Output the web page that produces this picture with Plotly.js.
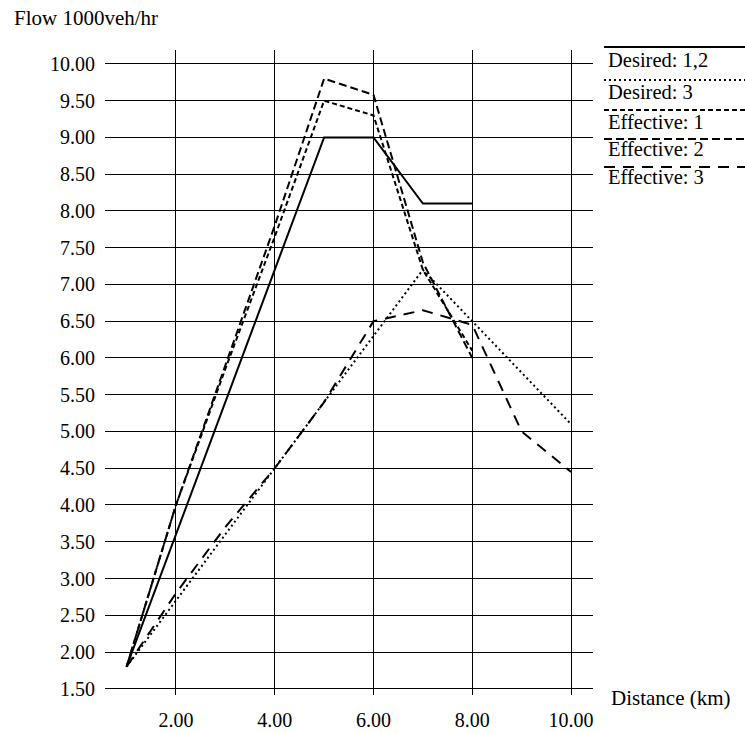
<!DOCTYPE html>
<html>
<head>
<meta charset="utf-8">
<script src="https://cdn.plot.ly/plotly-3.0.1.min.js"></script>
<style>
html,body{margin:0;padding:0;background:#fff;}
#chart{width:745px;height:733px;}
</style>
</head>
<body>
<div id="chart"></div>
<script>
// ---- data ----
const seriesNames = ["Desired: 1,2", "Desired: 3", "Effective: 1", "Effective: 2", "Effective: 3"];

const desired12X = [1, 5, 6, 7, 8];
const desired12Y = [1.8, 9.0, 9.0, 8.1, 8.1];

const desired3X = [1, 2, 4, 7, 8, 10];
const desired3Y = [1.8, 2.7, 4.5, 7.2, 6.5, 5.1];

const effective1X = [1, 2, 3, 4, 5, 6, 7, 8];
const effective1Y = [1.8, 4.0, 5.85, 7.65, 9.5, 9.3, 7.2, 6.1];

const effective2X = [1, 2, 3, 4, 5, 6, 7, 8];
const effective2Y = [1.8, 4.0, 5.9, 7.8, 9.8, 9.58, 7.3, 6.0];

const effective3X = [1, 2, 3, 4, 5, 6, 7, 8, 9, 10];
const effective3Y = [1.8, 2.8, 3.7, 4.5, 5.4, 6.5, 6.65, 6.45, 5.0, 4.45];

const xTickVals = [2, 4, 6, 8, 10];
const yTickVals = [1.5, 2, 2.5, 3, 3.5, 4, 4.5, 5, 5.5, 6, 6.5, 7, 7.5, 8, 8.5, 9, 9.5, 10];

const yTitle = "Flow 1000veh/hr";
const xTitle = "Distance (km)";

// ---- styles ----
const FONT = "Liberation Serif, Times New Roman, serif";
const dashes = ["solid", "2px,3px", "5px,3px", "8px,4px", "11px,8px"];
const widths = [2, 2, 2, 2, 2];

const xs = [desired12X, desired3X, effective1X, effective2X, effective3X];
const ys = [desired12Y, desired3Y, effective1Y, effective2Y, effective3Y];

const traces = seriesNames.map((n, i) => ({
  x: xs[i], y: ys[i], name: n, type: "scatter", mode: "lines",
  line: {color: "#000", width: widths[i], dash: dashes[i]},
  showlegend: false, hoverinfo: "skip"
}));

// plot area in pixels: left 105, right 593, top 50, bottom 695
const L = 105, R = 593, T = 50, B = 695, W = 745, H = 733;
const px2paperX = p => (p - L) / (R - L);
const px2paperY = p => (B - p) / (B - T);

const legendLineY = [47, 80, 110, 139, 167];
const legendTextY = [60, 92, 122, 149, 177];

const shapes = [];
const annotations = [];
seriesNames.forEach((n, i) => {
  shapes.push({
    type: "line", xref: "paper", yref: "paper",
    x0: px2paperX(604), x1: px2paperX(745),
    y0: px2paperY(legendLineY[i]), y1: px2paperY(legendLineY[i]),
    line: {color: "#000", width: widths[i], dash: dashes[i]}
  });
  annotations.push({
    xref: "paper", yref: "paper", x: px2paperX(606), y: px2paperY(legendTextY[i]),
    xanchor: "left", yanchor: "middle", showarrow: false, text: n,
    font: {family: FONT, size: 20.5, color: "#000"}
  });
});
annotations.push({
  xref: "paper", yref: "paper", x: px2paperX(12), y: px2paperY(18),
  xanchor: "left", yanchor: "middle", showarrow: false, text: yTitle,
  font: {family: FONT, size: 21, color: "#000"}
});
annotations.push({
  xref: "paper", yref: "paper", x: px2paperX(609), y: px2paperY(698),
  xanchor: "left", yanchor: "middle", showarrow: false, text: xTitle,
  font: {family: FONT, size: 21, color: "#000"}
});

const layout = {
  width: W, height: H,
  margin: {l: L, r: W - R, t: T, b: H - B, pad: 0},
  paper_bgcolor: "#fff", plot_bgcolor: "#fff",
  font: {family: FONT, size: 20, color: "#000"},
  showlegend: false,
  xaxis: {
    range: [0.563, 10.445], tickvals: xTickVals, tickformat: ".2f",
    showgrid: true, gridcolor: "#000", gridwidth: 1,
    zeroline: false, showline: false, ticks: "", ticklabelstandoff: 11,
    tickfont: {family: FONT, size: 20, color: "#000"}
  },
  yaxis: {
    range: [1.415, 10.19], tickvals: yTickVals, tickformat: ".2f",
    showgrid: true, gridcolor: "#000", gridwidth: 1,
    zeroline: false, showline: false, ticks: "", ticklabelstandoff: 9,
    tickfont: {family: FONT, size: 20, color: "#000"}
  },
  shapes: shapes,
  annotations: annotations
};

Plotly.newPlot("chart", traces, layout, {staticPlot: true, displayModeBar: false});
</script>
</body>
</html>
